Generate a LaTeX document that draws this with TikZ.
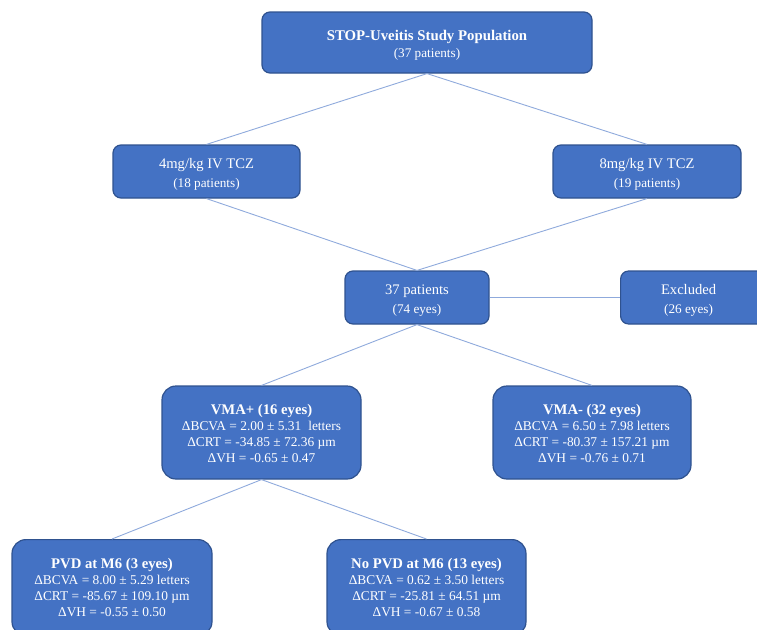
\documentclass[tikz,border=0pt]{standalone}
\usepackage{fontspec}
\setmainfont{Liberation Serif}
\definecolor{boxfill}{HTML}{4472C4}
\definecolor{boxline}{HTML}{2F528F}
\definecolor{conn}{HTML}{8FAADC}
\newcommand{\lift}[1]{\rule{0pt}{#1}}
\begin{document}
\begin{tikzpicture}[x=1pt,y=-1pt,
  box/.style={draw=boxline, line width=1.2pt, fill=boxfill, text=white, rounded corners=8pt,
    align=center, inner sep=0pt, font=\fontsize{13.2}{17}\selectfont},
  bigbox/.style={box, rounded corners=14pt, font=\fontsize{13.4}{16}\selectfont},
  conn/.style={draw=conn, line width=0.9pt}]
\useasboundingbox (0,0) rectangle (757,629);
\clip (0,0) rectangle (757,629);
\node[box, minimum width=330pt, minimum height=61pt] (top) at (427,42.5)
  {\lift{16pt}{\fontsize{14.8}{17}\selectfont\bfseries STOP-Uveitis Study Population}\\(37 patients)};
\node[box, minimum width=187pt, minimum height=53pt] (m4) at (206.5,171.5)
  {\lift{15pt}{\fontsize{14.6}{17}\selectfont 4mg/kg IV TCZ}\\[2pt](18 patients)};
\node[box, minimum width=188pt, minimum height=53pt] (m8) at (647,171.5)
  {\lift{15pt}{\fontsize{14.6}{17}\selectfont 8mg/kg IV TCZ}\\[2pt](19 patients)};
\node[box, minimum width=144pt, minimum height=53pt] (pat) at (417,297.5)
  {\lift{15pt}{\fontsize{14.6}{17}\selectfont 37 patients}\\[2pt](74 eyes)};
\node[box, minimum width=150pt, minimum height=53pt, anchor=west] (exc) at (620,297.5)
  {\hspace*{-14pt}\lift{15pt}{\fontsize{14.6}{17}\selectfont Excluded}\\[2pt]\hspace*{-14pt}(26 eyes)};
\node[bigbox, minimum width=199pt, minimum height=93pt] (vp) at (261.5,432.5)
  {\lift{12pt}{\fontsize{14.7}{16}\selectfont\bfseries VMA+ (16 eyes)}\\ΔBCVA = 2.00 ± 5.31\hspace{7pt}letters\\ΔCRT = -34.85 ± 72.36 µm\\ΔVH = -0.65 ± 0.47};
\node[bigbox, minimum width=198pt, minimum height=93pt] (vm) at (592,432.5)
  {\lift{12pt}{\fontsize{14.7}{16}\selectfont\bfseries VMA- (32 eyes)}\\ΔBCVA = 6.50 ± 7.98 letters\\ΔCRT = -80.37 ± 157.21 µm\\ΔVH = -0.76 ± 0.71};
\node[bigbox, minimum width=200pt, minimum height=96pt, anchor=north] (pvd) at (112,539)
  {{\fontsize{14.7}{16}\selectfont\bfseries PVD at M6 (3 eyes)}\\ΔBCVA = 8.00 ± 5.29 letters\\ΔCRT = -85.67 ± 109.10 µm\\ΔVH = -0.55 ± 0.50};
\node[bigbox, minimum width=199pt, minimum height=96pt, anchor=north] (npvd) at (426.5,539)
  {{\fontsize{14.7}{16}\selectfont\bfseries No PVD at M6 (13 eyes)}\\ΔBCVA = 0.62 ± 3.50 letters\\ΔCRT = -25.81 ± 64.51 µm\\ΔVH = -0.67 ± 0.58};
\draw[conn] (top.south) -- (m4.north);
\draw[conn] (top.south) -- (m8.north);
\draw[conn] (m4.south) -- (pat.north);
\draw[conn] (m8.south) -- (pat.north);
\draw[conn] (pat.east) -- (exc.west);
\draw[conn] (pat.south) -- (vp.north);
\draw[conn] (pat.south) -- (vm.north);
\draw[conn] (vp.south) -- (pvd.north);
\draw[conn] (vp.south) -- (npvd.north);
\end{tikzpicture}
\end{document}
